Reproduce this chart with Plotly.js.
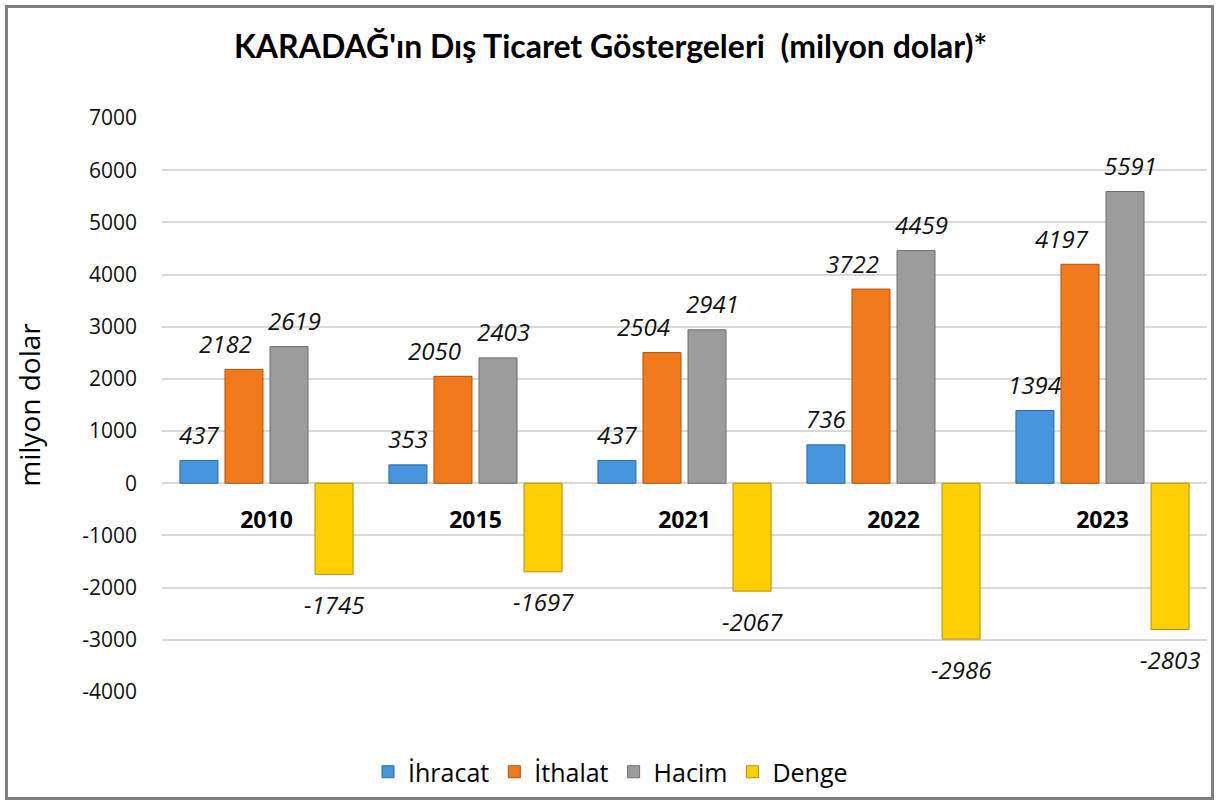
<!DOCTYPE html>
<html>
<head>
<meta charset="utf-8">
<script src="https://cdn.plot.ly/plotly-3.0.1.min.js"></script>
<style>
  html, body { margin: 0; padding: 0; background: #fff; }
  #wrap { position: relative; width: 1221px; height: 802px; }
  #chart { position: absolute; left: 0; top: 0; width: 1221px; height: 802px; }
  #frame { position: absolute; left: 5px; top: 5px; width: 1209px; height: 795px;
           box-sizing: border-box; border: 3px solid #7f7f7f; pointer-events: none; }
</style>
</head>
<body>
<div id="wrap"><div id="chart"></div><div id="frame"></div></div>
<script>
// ---- data ----
const categories = ["2010", "2015", "2021", "2022", "2023"];
const ihracat = [437, 353, 437, 736, 1394];
const ithalat = [2182, 2050, 2504, 3722, 4197];
const hacim   = [2619, 2403, 2941, 4459, 5591];
const denge   = [-1745, -1697, -2067, -2986, -2803];
const seriesNames = ["İhracat", "İthalat", "Hacim", "Denge"];
const yTickVals = [-4000, -3000, -2000, -1000, 0, 1000, 2000, 3000, 4000, 5000, 6000, 7000];

// ---- style ----
const seriesValues = [ihracat, ithalat, hacim, denge];
const fillColors = ["#4596DD", "#F07A1C", "#9C9C9C", "#FFCF00"];
const edgeColors = ["#2A6AA8", "#B5520A", "#6E6E6E", "#B58F00"];
const labelDx = [0, -18, 5, 0];
const yMin = -4000, yMax = 7000;

const W = 1221, H = 802;
const margin = {l: 162, r: 14, t: 118, b: 110};
const bargap = 0.138, bargroupgap = 0.156;
const plotW = W - margin.l - margin.r;
const slotPx = plotW / categories.length * (1 - bargap) / seriesValues.length;

const traces = seriesValues.map((vals, i) => ({
  type: "bar",
  name: seriesNames[i],
  x: categories,
  y: vals,
  marker: {color: fillColors[i], line: {color: edgeColors[i], width: 1}},
  hoverinfo: "x+y+name"
}));

const annotations = [];
seriesValues.forEach((vals, i) => {
  vals.forEach((v, j) => {
    annotations.push({
      x: j, y: v, xref: "x", yref: "y",   // category index j -> categories[j]
      text: String(v), showarrow: false,
      xanchor: "center", yanchor: "middle",
      xshift: (i - (seriesValues.length - 1) / 2) * slotPx + (v < 0 ? 0 : labelDx[i]),
      yshift: v < 0 ? -30 : 26,
      font: {family: "Open Sans, sans-serif", size: 24, style: "italic", color: "#111"}
    });
  });
});

const layout = {
  width: W, height: H,
  margin: margin,
  paper_bgcolor: "#ffffff",
  plot_bgcolor: "#ffffff",
  barmode: "group",
  bargap: bargap,
  bargroupgap: bargroupgap,
  title: {
    text: "KARADAĞ'ın Dış Ticaret Göstergeleri  (milyon dolar)*",
    x: 0.5, xref: "container", xanchor: "center",
    y: 1 - 47 / H, yref: "container", yanchor: "middle",
    font: {family: "Lato, sans-serif", size: 32, weight: "bold", color: "#000"}
  },
  xaxis: {
    type: "category",
    categoryorder: "array", categoryarray: categories,
    anchor: "free",
    position: (0 - yMin) / (yMax - yMin),
    showline: false, showgrid: false, zeroline: false,
    ticks: "", ticklabelstandoff: 21,
    tickfont: {family: "Open Sans, sans-serif", size: 23, weight: "bold", color: "#000"}
  },
  yaxis: {
    range: [yMin, yMax],
    tickmode: "array",
    tickvals: yTickVals,
    ticktext: yTickVals.map(String),
    showgrid: true, gridcolor: "#D9D9D9", gridwidth: 2,
    zeroline: true, zerolinecolor: "#D9D9D9", zerolinewidth: 2,
    showline: false, ticks: "", ticklabelstandoff: 24,
    tickfont: {family: "Open Sans, sans-serif", size: 21, color: "#111"},
    title: {text: "milyon dolar", standoff: 33,
            font: {family: "Open Sans, sans-serif", size: 28, color: "#000"}}
  },
  legend: {
    orientation: "h", x: 0.5, xref: "container", xanchor: "center",
    y: 1 - 772 / H, yref: "container", yanchor: "middle",
    font: {family: "Open Sans, sans-serif", size: 25, color: "#000"},
    itemwidth: 30, traceorder: "normal"
  },
  annotations: annotations,
  showlegend: true
};

Plotly.newPlot("chart", traces, layout, {displayModeBar: false, responsive: false});
</script>
</body>
</html>
